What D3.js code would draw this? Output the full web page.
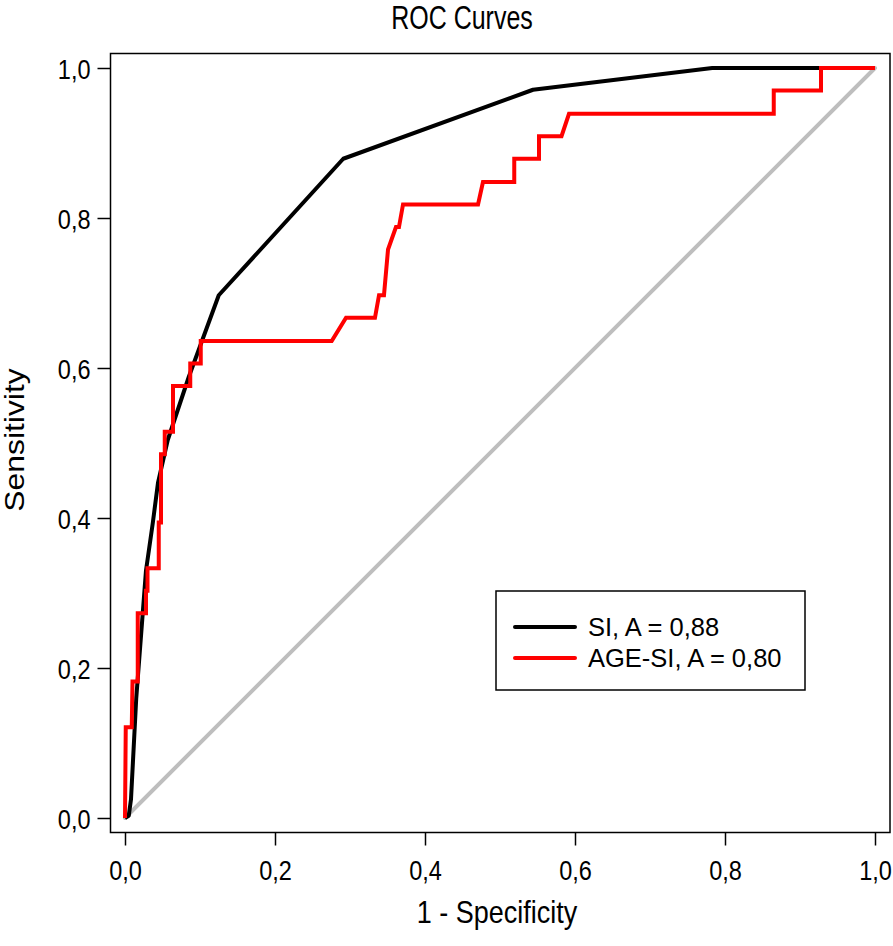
<!DOCTYPE html>
<html>
<head>
<meta charset="utf-8">
<script src="https://cdn.jsdelivr.net/npm/d3@7"></script>
<style>
  html, body { margin: 0; padding: 0; background: #fff; }
  svg { display: block; font-family: "Liberation Sans", Arial, sans-serif; }
</style>
</head>
<body>
<svg id="chart" width="893" height="946"></svg>
<script>
// ---- data ----
const chartTitle = "ROC Curves";
const xLabel = "1 - Specificity";
const yLabel = "Sensitivity";
const tickValues = [0, 0.2, 0.4, 0.6, 0.8, 1.0];

const siFpr = [0, 0.005, 0.008, 0.015, 0.028, 0.037, 0.044, 0.057, 0.085, 0.125, 0.291, 0.544, 0.783, 1.0];
const siTpr = [0, 0.003, 0.025, 0.16, 0.33, 0.393, 0.447, 0.504, 0.588, 0.697, 0.879, 0.971, 1.0, 1.0];

const ageFpr = [0, 0.001, 0.009, 0.010, 0.017, 0.017, 0.028, 0.028, 0.030, 0.030, 0.045, 0.045, 0.048, 0.048, 0.053, 0.053,
  0.064, 0.064, 0.087, 0.087, 0.101, 0.101, 0.2756, 0.2947, 0.3333, 0.3387, 0.3453, 0.3507, 0.3613, 0.3653, 0.3707,
  0.4707, 0.4773, 0.519, 0.519, 0.552, 0.552, 0.582, 0.592, 0.865, 0.865, 0.928, 0.928, 1.0];
const ageTpr = [0, 0.121, 0.121, 0.182, 0.182, 0.273, 0.273, 0.303, 0.303, 0.333, 0.333, 0.394, 0.394, 0.485, 0.485, 0.515,
  0.515, 0.576, 0.576, 0.606, 0.606, 0.636, 0.636, 0.667, 0.667, 0.697, 0.697, 0.758, 0.788, 0.788, 0.818,
  0.818, 0.848, 0.848, 0.879, 0.879, 0.909, 0.909, 0.939, 0.939, 0.970, 0.970, 1.0, 1.0];

const refX = [0, 1];
const refY = [0, 1];

const legendLabels = ["SI, A = 0,88", "AGE-SI, A = 0,80"];
const legendColors = ["#000000", "#ff0000"];

// ---- layout ----
const svg = d3.select("#chart");
const x = d3.scaleLinear().domain([0, 1]).range([125, 875]);
const y = d3.scaleLinear().domain([0, 1]).range([818, 68]);
const pad = 14.5;
const frame = { left: x(0) - pad, right: x(1) + pad + 0.5, top: y(1) - pad, bottom: y(0) + pad };
const stretch = 1.18; // vertical stretch of glyphs seen in the reference

const fmt = d => d3.format(".1f")(d).replace(".", ",");

// axes
const xAxis = d3.axisBottom(x).tickValues(tickValues).tickFormat(fmt).tickSize(13);
const gx = svg.append("g").attr("transform", `translate(0,${frame.bottom})`).call(xAxis);
gx.select(".domain").remove();
gx.selectAll(".tick line").attr("stroke", "#000").attr("stroke-width", 1.5);
gx.selectAll(".tick text").attr("font-size", 24).attr("fill", "#000")
  .attr("font-family", "Liberation Sans, Arial, sans-serif")
  .attr("y", 0).attr("dy", 0)
  .attr("transform", `translate(0,47) scale(0.98,${stretch})`);

const yAxis = d3.axisLeft(y).tickValues(tickValues).tickFormat(fmt).tickSize(13);
const gy = svg.append("g").attr("transform", `translate(${frame.left},0)`).call(yAxis);
gy.select(".domain").remove();
gy.selectAll(".tick line").attr("stroke", "#000").attr("stroke-width", 1.5);
gy.selectAll(".tick text").attr("font-size", 24).attr("fill", "#000")
  .attr("font-family", "Liberation Sans, Arial, sans-serif")
  .attr("x", 0).attr("dy", 0)
  .attr("transform", `translate(-20,10) scale(0.98,${stretch})`);

// curves
const line = d3.line().x(d => x(d[0])).y(d => y(d[1]));
const plot = svg.append("g");
plot.append("path").datum(d3.zip(refX, refY)).attr("d", line)
  .attr("fill", "none").attr("stroke", "#bebebe").attr("stroke-width", 4).attr("stroke-linecap", "round");
plot.append("path").datum(d3.zip(siFpr, siTpr)).attr("d", line)
  .attr("fill", "none").attr("stroke", legendColors[0]).attr("stroke-width", 4).attr("stroke-linejoin", "round");
plot.append("path").datum(d3.zip(ageFpr, ageTpr)).attr("d", line)
  .attr("fill", "none").attr("stroke", legendColors[1]).attr("stroke-width", 4).attr("stroke-linejoin", "miter");

// frame
svg.append("rect").attr("x", frame.left).attr("y", frame.top)
  .attr("width", frame.right - frame.left).attr("height", frame.bottom - frame.top)
  .attr("fill", "none").attr("stroke", "#000").attr("stroke-width", 1.5);

// titles
svg.append("text").attr("transform", `translate(462,29) scale(1,1.32)`)
  .attr("text-anchor", "middle").attr("font-size", 25).text(chartTitle);
svg.append("text").attr("transform", `translate(497,923) scale(1,${stretch})`)
  .attr("text-anchor", "middle").attr("font-size", 27).text(xLabel);
svg.append("text").attr("transform", `translate(24,440) rotate(-90) scale(${stretch},1)`)
  .attr("text-anchor", "middle").attr("font-size", 27).text(yLabel);

// legend
const lg = svg.append("g");
lg.append("rect").attr("x", 496).attr("y", 591).attr("width", 309).attr("height", 99)
  .attr("fill", "#fff").attr("stroke", "#000").attr("stroke-width", 1.5);
legendLabels.forEach((lab, i) => {
  const ly = 627 + i * 31;
  lg.append("line").attr("x1", 515).attr("x2", 575).attr("y1", ly).attr("y2", ly)
    .attr("stroke", legendColors[i]).attr("stroke-width", 4).attr("stroke-linecap", "round");
  lg.append("text").attr("x", 588).attr("y", ly).attr("dy", "0.36em")
    .attr("font-size", 25.5).text(lab);
});
</script>
</body>
</html>
